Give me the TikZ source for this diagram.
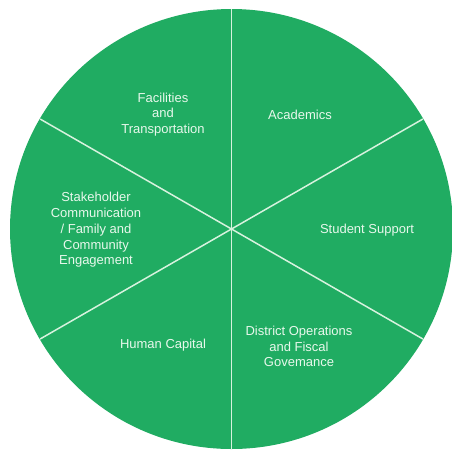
\documentclass[tikz,border=0pt]{standalone}
\usepackage{fontspec}
\setmainfont{Liberation Sans}
\begin{document}
\definecolor{piegreen}{RGB}{32,172,98}
\definecolor{divider}{RGB}{215,242,222}
\definecolor{labeltext}{RGB}{232,248,236}
\begin{tikzpicture}[x=1pt,y=-1pt,
  label/.style={text=labeltext,align=center,font=\fontsize{13}{15.8}\selectfont,inner sep=0pt},
  spoke/.style={draw=divider,line width=1.5pt}]
  \useasboundingbox (0,0) rectangle (452,451);
  \fill[white] (0,0) rectangle (452,451);
  % pie disc
  \coordinate (c) at (231.5,229);
  \fill[piegreen] (c) ellipse [x radius=221.5, y radius=220];
  % six dividing spokes, every 60 degrees starting at the vertical
  \foreach \a in {90,30,-30,-90,-150,150}
    \draw[spoke] (c) -- ++({221*cos(\a)},{-220*sin(\a)});
  % sector labels
  \node[label] (facilities) at (163,114.5) {Facilities\\and\\Transportation};
  \node[label] (academics) at (300,115) {Academics};
  \node[label] (stakeholder) at (96,230) {Stakeholder\\Communication\\/ Family and\\Community\\Engagement};
  \node[label] (student) at (367,230) {Student Support};
  \node[label] (human) at (163,345) {Human Capital};
  \node[label] (district) at (299,346.5) {District Operations\\and Fiscal\\Govemance};
\end{tikzpicture}
\end{document}
